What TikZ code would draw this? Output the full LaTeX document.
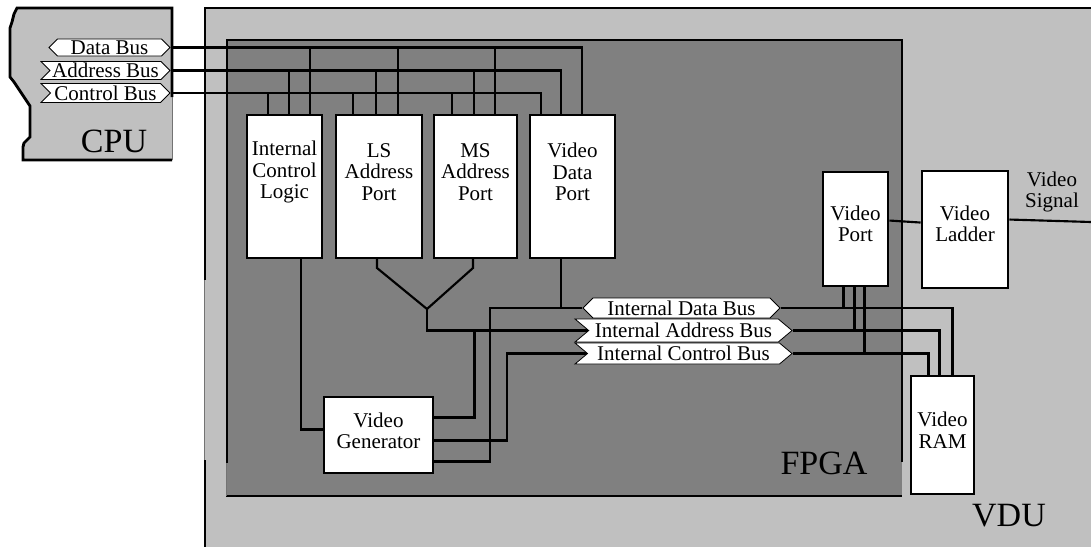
\documentclass[tikz,border=0pt]{standalone}
\usepackage{fontspec}
\setmainfont{Liberation Serif}
\usetikzlibrary{shapes.symbols,fit,calc}
\definecolor{lightpanel}{HTML}{C0C0C0}
\definecolor{darkpanel}{HTML}{808080}
\pgfdeclarelayer{back}
\pgfdeclarelayer{wires}
\pgfsetlayers{back,wires,main}

\begin{document}
\begin{tikzpicture}[x=0.75pt,y=-0.75pt,
  frame/.style={line width=2.1pt},
  faint/.style={line width=0.6pt, draw=black!55},
  wire/.style={line width=1.6pt},
  box/.style={draw, fill=white, line width=1.5pt, inner sep=0pt},
  heavybox/.style={draw, fill=white, line width=2.2pt, inner sep=0pt},
  thinbox/.style={draw, fill=white, line width=0.8pt, inner sep=0pt},
  txt/.style={align=center, inner sep=0pt, font=\fontsize{15.75}{16.1}\selectfont},
  big/.style={inner sep=0pt, font=\fontsize{25.5}{26}\selectfont},
  sig/.style={signal, draw, fill=white, line width=0.6pt, inner sep=0pt,
              font=\fontsize{15.75}{16}\selectfont, signal pointer angle=90},
  bidir/.style={sig, signal to=east and west},
  unidir/.style={sig, signal to=east, signal from=west}]

\useasboundingbox (0,0) rectangle (1091,547);

% ---------- panels ----------
\begin{pgfonlayer}{back}
  % VDU panel
  \fill[lightpanel] (205,8) rectangle (1091,547);
  \draw[frame] (205,280) -- (205,8) -- (1091,8);
  \draw[frame] (205,460) -- (205,547);
  \draw[faint] (204,280) -- (204,460);
  % FPGA panel
  \fill[darkpanel] (227,40) rectangle (902,496);
  \draw[frame] (227,463) -- (227,40) -- (902,40) -- (902,462);
  \draw[frame] (226,496) -- (902,496);
  \draw[faint] (226,463) -- (226,496);
  % CPU panel with torn left edge
  \fill[lightpanel] (172,8) -- (17,8) -- (14,14) -- (12,22) -- (10,28) -- (10,77)
     -- (14,82) -- (18,88) -- (22,94) -- (26,100) -- (30,106) -- (30,137)
     -- (27,140) -- (24,143) -- (23,147) -- (23,160) -- (172,160) -- cycle;
  \draw[frame] (172,97) -- (172,8) -- (17,8) -- (14,14) -- (12,22) -- (10,28) -- (10,77)
     -- (14,82) -- (18,88) -- (22,94) -- (26,100) -- (30,106) -- (30,137)
     -- (27,140) -- (24,143) -- (23,147) -- (23,160) -- (172,160);
  \draw[faint] (172,97) -- (172,160);
\end{pgfonlayer}

% ---------- CPU buses ----------
\node[bidir,  minimum width=90.75pt, minimum height=12.75pt] (cdata) at (109.5,47.5) {Data Bus};
\node[unidir, minimum width=96.75pt, minimum height=13.5pt]  (caddr) at (105.5,70.5) {Address Bus};
\node[unidir, minimum width=96.75pt, minimum height=14.25pt] (cctrl) at (105.5,93) {Control Bus};
\node[big] (cpulbl) at (114,141) {CPU};

% ---------- FPGA blocks ----------
\node[box, fit={(247,115) (322,258)}] (icl) {};
\node[box, fit={(336,115) (422,258)}] (lsp) {};
\node[box, fit={(434,115) (517,258)}] (msp) {};
\node[box, fit={(530,115) (615,258)}] (vdp) {};
\node[thinbox, fit={(324,397) (433,473)}] (vgen) {};
\node[heavybox, fit={(823,172) (888,286)}] (vport) {};

\node[txt] (iclT) at (284.5,172) {Internal\\Control\\Logic};
\node[txt] (lspT) at (379,172) {LS\\Address\\Port};
\node[txt] (mspT) at (475.5,172) {MS\\Address\\Port};
\node[txt] (vdpT) at (572.5,172) {Video\\Data\\Port};
\node[txt] (vgenT) at (378.5,431) {Video\\Generator};
\node[txt] (vportT) at (855.5,224) {Video\\Port};

\node[bidir, minimum width=147.75pt, minimum height=15pt] (idata) at (681.5,308) {Internal Data Bus};
\node[unidir, signal pointer angle=80, minimum width=162.75pt, minimum height=17.25pt]
     (iaddr) at (683.5,330.5) {Internal Address Bus};
\node[unidir, signal pointer angle=80, minimum width=162.75pt, minimum height=15.75pt]
     (ictrl) at (683.5,353.5) {Internal Control Bus};
\node[big] (fpgalbl) at (824,463) {FPGA};

% ---------- VDU blocks ----------
\node[heavybox, fit={(922,171) (1008,288)}] (vlad) {};
\node[heavybox, fit={(911,376) (974,494)}] (vram) {};
\node[txt] (vladT) at (965,224) {Video\\Ladder};
\node[txt] (vramT) at (942.5,430) {Video\\RAM};
\node[txt] (sigT) at (1052,192) {Video\\Signal};
\node[big] (vdulbl) at (1009,516) {VDU};

% ---------- wiring ----------
\begin{pgfonlayer}{wires}
  % external buses into the FPGA
  \draw[wire] (cdata.east) -| ($(vdp.north west)+(53,0)$);
  \draw[wire] (caddr.east) -| ($(vdp.north west)+(32,0)$);
  \draw[wire] (cctrl.east) -| ($(vdp.north west)+(12,0)$);
  \foreach \n/\c/\a/\d in {icl/22/43/64, lsp/18/41/63, msp/19/41/62}{
    \coordinate (\n-c) at ($(\n.north west)+(\c,0)$);
    \coordinate (\n-a) at ($(\n.north west)+(\a,0)$);
    \coordinate (\n-d) at ($(\n.north west)+(\d,0)$);
    \draw[wire] (\n-c) -- (\n-c |- cctrl.east);
    \draw[wire] (\n-a) -- (\n-a |- caddr.east);
    \draw[wire] (\n-d) -- (\n-d |- cdata.east);
  }
  % address ports merge onto the internal address bus
  \coordinate (merge) at (427,309);
  \draw[wire] ($(lsp.south west)+(42,0)$) -- ++(0,9) -- (merge);
  \draw[wire] ($(msp.south west)+(40,0)$) -- ++(0,9) -- (merge);
  \draw[wire] (merge) |- (iaddr.west);
  % video data port onto the internal data bus
  \coordinate (vdpo) at ($(vdp.south west)+(32,0)$);
  \draw[wire] (vdpo) -- (vdpo |- idata.west);
  % video generator
  \draw[wire] ($(icl.south west)+(55,0)$) |- ($(vgen.north west)+(0,33)$);
  \draw[wire] ($(vgen.north east)+(0,21)$) -| (iaddr.west -| 474.5,0);
  \draw[wire] ($(vgen.north east)+(0,44)$) -| (ictrl.west -| 507,0) -- (ictrl.west);
  \draw[wire] ($(vgen.north east)+(0,65)$) -| (idata.west -| 490,0) -- (idata.west);
  % internal buses to video RAM
  \draw[wire] (idata.east) -| ($(vram.north west)+(43,0)$);
  \draw[wire] (iaddr.east) -| ($(vram.north west)+(30,0)$);
  \draw[wire] (ictrl.east) -| ($(vram.north west)+(19,0)$);
  % video port taps
  \coordinate (vp1) at ($(vport.south west)+(22,0)$);
  \coordinate (vp2) at ($(vport.south west)+(33,0)$);
  \coordinate (vp3) at ($(vport.south west)+(43,0)$);
  \draw[wire] (vp1) -- (vp1 |- idata.east);
  \draw[wire] (vp2) -- (vp2 |- iaddr.east);
  \draw[wire] (vp3) -- (vp3 |- ictrl.east);
  % video output
  \draw[wire] ($(vport.north east)+(0,50)$) -- ($(vlad.north west)+(0,53)$);
  \coordinate (sigout) at (1091,222);
  \draw[wire] ($(vlad.north east)+(0,50)$) -- (sigout);
\end{pgfonlayer}
\end{tikzpicture}
\end{document}
